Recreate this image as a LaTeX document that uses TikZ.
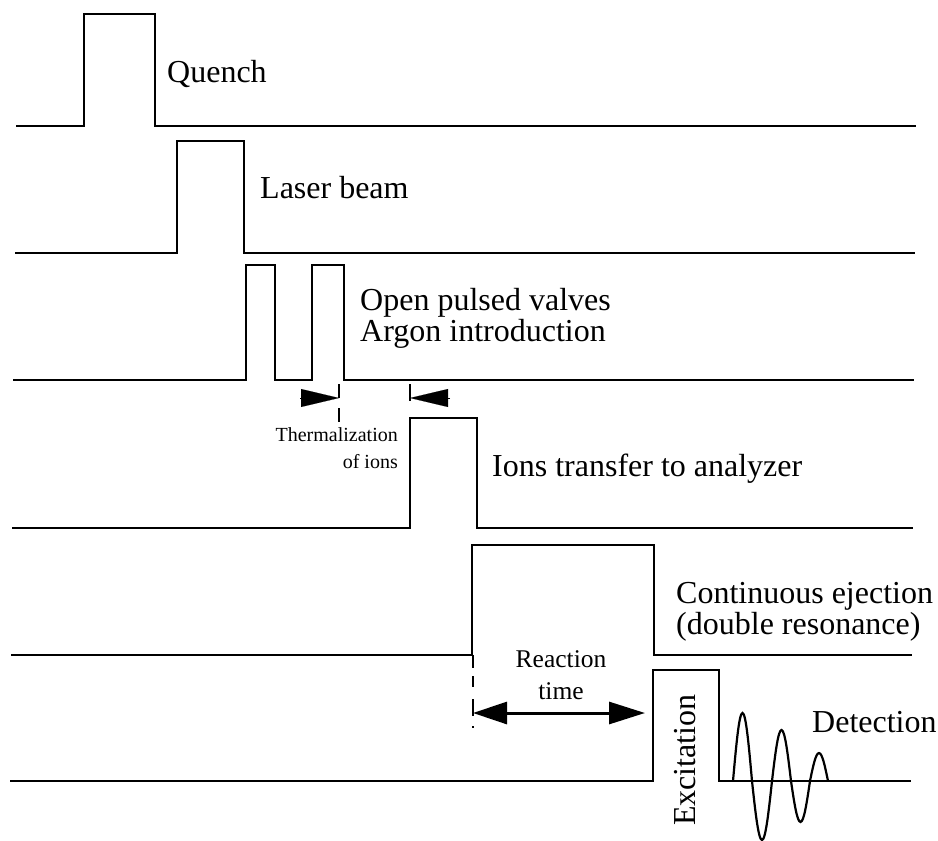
\documentclass[tikz,border=0pt]{standalone}
\usepackage{fontspec}
\setmainfont{Liberation Serif}
\usetikzlibrary{arrows.meta}
\begin{document}
\begin{tikzpicture}[x=1pt,y=-1pt,
  sig/.style={line width=2.8pt, line join=miter, line cap=butt},
  wave/.style={line width=2.2pt},
  lbl/.style={font=\fontsize{32}{32}\selectfont, anchor=base west, inner sep=0pt},
  smalllbl/.style={font=\fontsize{20}{24}\selectfont, anchor=base east, inner sep=0pt},
  midlbl/.style={font=\fontsize{25.5}{30}\selectfont, anchor=base, inner sep=0pt},
  ext/.style={line width=2pt, dash pattern=on 14pt off 10pt},
  thermarrow/.style={line width=0.1pt, -{Triangle[length=38pt,width=18pt]}},
  dimarrow/.style={line width=3pt, {Triangle[length=34pt,width=22pt]}-{Triangle[length=36pt,width=22pt]}}]
\useasboundingbox (0,0) rectangle (938,841);

% signal rows
\draw[sig] (16,126) -- (84,126) -- (84,14) -- (155,14) -- (155,126) -- (916,126);
\draw[sig] (15,253) -- (177,253) -- (177,141) -- (244,141) -- (244,253) -- (915,253);
\draw[sig] (13,380) -- (246,380) -- (246,265) -- (275,265) -- (275,380) -- (312,380) -- (312,265) -- (344,265) -- (344,380) -- (914,380);
\draw[sig] (12,528) -- (410,528) -- (410,418) -- (477,418) -- (477,528) -- (913,528);
\draw[sig] (11,655) -- (472,655) -- (472,545) -- (654,545) -- (654,655) -- (912,655);
\draw[sig] (10,781) -- (653,781) -- (653,670) -- (719,670) -- (719,781) -- (911,781);

% detection wave
\draw[wave] (733,781) sin (742.5,713) cos (752,781) sin (762,840) cos (772,781)
  sin (781.5,730) cos (791,781) sin (800.5,822) cos (810,781) sin (819,753) cos (828,781);

% labels
\node[lbl] (quench) at (167,82) {Quench};
\node[lbl] (laser) at (260,198) {Laser beam};
\node[lbl] (valves1) at (360,310) {Open pulsed valves};
\node[lbl] (valves2) at (360,341) {Argon introduction};
\node[lbl] (ions) at (492,476) {Ions transfer to analyzer};
\node[lbl] (ej1) at (676,603) {Continuous ejection};
\node[lbl] (ej2) at (676,634) {(double resonance)};
\node[lbl] (det) at (812,732) {Detection};
\node[lbl, anchor=base, rotate=90] (exc) at (695,760) {Excitation};
\node[smalllbl] (th1) at (398,441) {Thermalization};
\node[smalllbl] (th2) at (398,468) {of ions};
\node[midlbl] (re1) at (561,667) {Reaction};
\node[midlbl] (re2) at (561,699) {time};

% thermalization markers
\coordinate (tA) at (339,384);
\coordinate (tAb) at (339,428);
\coordinate (tB) at (410,384);
\coordinate (tBb) at (410,401);
\draw[ext] (tA) -- (tAb);
\draw[line width=2pt] (tB) -- (tBb);
\coordinate (la) at (300,398);
\coordinate (lb) at (339,398);
\coordinate (ra) at (450,398);
\coordinate (rb) at (410,398);
\draw[thermarrow] (la) -- (lb);
\draw[thermarrow] (ra) -- (rb);

% reaction time
\coordinate (rt0) at (473,655);
\coordinate (rt1) at (473,728);
\draw[ext, dash pattern=on 13pt off 8pt on 11pt off 12pt on 17pt off 10pt on 4pt] (rt0) -- (rt1);
\coordinate (ra1) at (473,713);
\coordinate (ra2) at (645,713);
\draw[dimarrow] (ra1) -- (ra2);
\end{tikzpicture}
\end{document}
